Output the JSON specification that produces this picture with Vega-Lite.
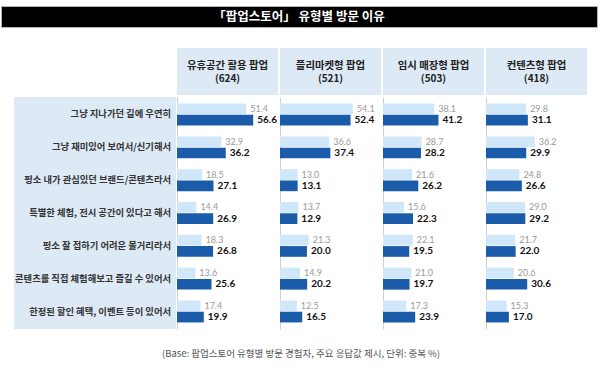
{
  "$schema": "https://vega.github.io/schema/vega-lite/v6.json",
  "padding": {"left": 0, "top": 5, "right": 0, "bottom": 0},
  "background": "white",
  "config": {"view": {"stroke": null}, "font": "Noto Sans CJK KR"},
  "datasets": {
    "headers": [
      {"type": "유휴공간 활용 팝업", "n": "(624)"},
      {"type": "플리마켓형 팝업", "n": "(521)"},
      {"type": "임시 매장형 팝업", "n": "(503)"},
      {"type": "컨텐츠형 팝업", "n": "(418)"}
    ],
    "reasons": [
      {"reason": "그냥 지나가던 길에 우연히"},
      {"reason": "그냥 재미있어 보여서/신기해서"},
      {"reason": "평소 내가 관심있던 브랜드/콘텐츠라서"},
      {"reason": "특별한 체험, 전시 공간이 있다고 해서"},
      {"reason": "평소 잘 접하기 어려운 볼거리라서"},
      {"reason": "콘텐츠를 직접 체험해보고 즐길 수 있어서"},
      {"reason": "한정된 할인 혜택, 이벤트 등이 있어서"}
    ],
    "bars": [
      {"type": "유휴공간 활용 팝업", "reason": "그냥 지나가던 길에 우연히", "series": "prev", "value": 51.4},
      {"type": "유휴공간 활용 팝업", "reason": "그냥 지나가던 길에 우연히", "series": "curr", "value": 56.6},
      {"type": "플리마켓형 팝업", "reason": "그냥 지나가던 길에 우연히", "series": "prev", "value": 54.1},
      {"type": "플리마켓형 팝업", "reason": "그냥 지나가던 길에 우연히", "series": "curr", "value": 52.4},
      {"type": "임시 매장형 팝업", "reason": "그냥 지나가던 길에 우연히", "series": "prev", "value": 38.1},
      {"type": "임시 매장형 팝업", "reason": "그냥 지나가던 길에 우연히", "series": "curr", "value": 41.2},
      {"type": "컨텐츠형 팝업", "reason": "그냥 지나가던 길에 우연히", "series": "prev", "value": 29.8},
      {"type": "컨텐츠형 팝업", "reason": "그냥 지나가던 길에 우연히", "series": "curr", "value": 31.1},

      {"type": "유휴공간 활용 팝업", "reason": "그냥 재미있어 보여서/신기해서", "series": "prev", "value": 32.9},
      {"type": "유휴공간 활용 팝업", "reason": "그냥 재미있어 보여서/신기해서", "series": "curr", "value": 36.2},
      {"type": "플리마켓형 팝업", "reason": "그냥 재미있어 보여서/신기해서", "series": "prev", "value": 36.6},
      {"type": "플리마켓형 팝업", "reason": "그냥 재미있어 보여서/신기해서", "series": "curr", "value": 37.4},
      {"type": "임시 매장형 팝업", "reason": "그냥 재미있어 보여서/신기해서", "series": "prev", "value": 28.7},
      {"type": "임시 매장형 팝업", "reason": "그냥 재미있어 보여서/신기해서", "series": "curr", "value": 28.2},
      {"type": "컨텐츠형 팝업", "reason": "그냥 재미있어 보여서/신기해서", "series": "prev", "value": 36.2},
      {"type": "컨텐츠형 팝업", "reason": "그냥 재미있어 보여서/신기해서", "series": "curr", "value": 29.9},

      {"type": "유휴공간 활용 팝업", "reason": "평소 내가 관심있던 브랜드/콘텐츠라서", "series": "prev", "value": 18.5},
      {"type": "유휴공간 활용 팝업", "reason": "평소 내가 관심있던 브랜드/콘텐츠라서", "series": "curr", "value": 27.1},
      {"type": "플리마켓형 팝업", "reason": "평소 내가 관심있던 브랜드/콘텐츠라서", "series": "prev", "value": 13.0},
      {"type": "플리마켓형 팝업", "reason": "평소 내가 관심있던 브랜드/콘텐츠라서", "series": "curr", "value": 13.1},
      {"type": "임시 매장형 팝업", "reason": "평소 내가 관심있던 브랜드/콘텐츠라서", "series": "prev", "value": 21.6},
      {"type": "임시 매장형 팝업", "reason": "평소 내가 관심있던 브랜드/콘텐츠라서", "series": "curr", "value": 26.2},
      {"type": "컨텐츠형 팝업", "reason": "평소 내가 관심있던 브랜드/콘텐츠라서", "series": "prev", "value": 24.8},
      {"type": "컨텐츠형 팝업", "reason": "평소 내가 관심있던 브랜드/콘텐츠라서", "series": "curr", "value": 26.6},

      {"type": "유휴공간 활용 팝업", "reason": "특별한 체험, 전시 공간이 있다고 해서", "series": "prev", "value": 14.4},
      {"type": "유휴공간 활용 팝업", "reason": "특별한 체험, 전시 공간이 있다고 해서", "series": "curr", "value": 26.9},
      {"type": "플리마켓형 팝업", "reason": "특별한 체험, 전시 공간이 있다고 해서", "series": "prev", "value": 13.7},
      {"type": "플리마켓형 팝업", "reason": "특별한 체험, 전시 공간이 있다고 해서", "series": "curr", "value": 12.9},
      {"type": "임시 매장형 팝업", "reason": "특별한 체험, 전시 공간이 있다고 해서", "series": "prev", "value": 15.6},
      {"type": "임시 매장형 팝업", "reason": "특별한 체험, 전시 공간이 있다고 해서", "series": "curr", "value": 22.3},
      {"type": "컨텐츠형 팝업", "reason": "특별한 체험, 전시 공간이 있다고 해서", "series": "prev", "value": 29.0},
      {"type": "컨텐츠형 팝업", "reason": "특별한 체험, 전시 공간이 있다고 해서", "series": "curr", "value": 29.2},

      {"type": "유휴공간 활용 팝업", "reason": "평소 잘 접하기 어려운 볼거리라서", "series": "prev", "value": 18.3},
      {"type": "유휴공간 활용 팝업", "reason": "평소 잘 접하기 어려운 볼거리라서", "series": "curr", "value": 26.8},
      {"type": "플리마켓형 팝업", "reason": "평소 잘 접하기 어려운 볼거리라서", "series": "prev", "value": 21.3},
      {"type": "플리마켓형 팝업", "reason": "평소 잘 접하기 어려운 볼거리라서", "series": "curr", "value": 20.0},
      {"type": "임시 매장형 팝업", "reason": "평소 잘 접하기 어려운 볼거리라서", "series": "prev", "value": 22.1},
      {"type": "임시 매장형 팝업", "reason": "평소 잘 접하기 어려운 볼거리라서", "series": "curr", "value": 19.5},
      {"type": "컨텐츠형 팝업", "reason": "평소 잘 접하기 어려운 볼거리라서", "series": "prev", "value": 21.7},
      {"type": "컨텐츠형 팝업", "reason": "평소 잘 접하기 어려운 볼거리라서", "series": "curr", "value": 22.0},

      {"type": "유휴공간 활용 팝업", "reason": "콘텐츠를 직접 체험해보고 즐길 수 있어서", "series": "prev", "value": 13.6},
      {"type": "유휴공간 활용 팝업", "reason": "콘텐츠를 직접 체험해보고 즐길 수 있어서", "series": "curr", "value": 25.6},
      {"type": "플리마켓형 팝업", "reason": "콘텐츠를 직접 체험해보고 즐길 수 있어서", "series": "prev", "value": 14.9},
      {"type": "플리마켓형 팝업", "reason": "콘텐츠를 직접 체험해보고 즐길 수 있어서", "series": "curr", "value": 20.2},
      {"type": "임시 매장형 팝업", "reason": "콘텐츠를 직접 체험해보고 즐길 수 있어서", "series": "prev", "value": 21.0},
      {"type": "임시 매장형 팝업", "reason": "콘텐츠를 직접 체험해보고 즐길 수 있어서", "series": "curr", "value": 19.7},
      {"type": "컨텐츠형 팝업", "reason": "콘텐츠를 직접 체험해보고 즐길 수 있어서", "series": "prev", "value": 20.6},
      {"type": "컨텐츠형 팝업", "reason": "콘텐츠를 직접 체험해보고 즐길 수 있어서", "series": "curr", "value": 30.6},

      {"type": "유휴공간 활용 팝업", "reason": "한정된 할인 혜택, 이벤트 등이 있어서", "series": "prev", "value": 17.4},
      {"type": "유휴공간 활용 팝업", "reason": "한정된 할인 혜택, 이벤트 등이 있어서", "series": "curr", "value": 19.9},
      {"type": "플리마켓형 팝업", "reason": "한정된 할인 혜택, 이벤트 등이 있어서", "series": "prev", "value": 12.5},
      {"type": "플리마켓형 팝업", "reason": "한정된 할인 혜택, 이벤트 등이 있어서", "series": "curr", "value": 16.5},
      {"type": "임시 매장형 팝업", "reason": "한정된 할인 혜택, 이벤트 등이 있어서", "series": "prev", "value": 17.3},
      {"type": "임시 매장형 팝업", "reason": "한정된 할인 혜택, 이벤트 등이 있어서", "series": "curr", "value": 23.9},
      {"type": "컨텐츠형 팝업", "reason": "한정된 할인 혜택, 이벤트 등이 있어서", "series": "prev", "value": 15.3},
      {"type": "컨텐츠형 팝업", "reason": "한정된 할인 혜택, 이벤트 등이 있어서", "series": "curr", "value": 17.0}
    ]
  },
  "vconcat": [
    {
      "width": 596,
      "height": 21,
      "data": {"values": [{"t": "「팝업스토어」 유형별 방문 이유"}]},
      "view": {"fill": "black", "stroke": "#b5b5b5"},
      "mark": {"type": "text", "color": "white", "fontSize": 12.5, "fontWeight": "bold", "font": "Noto Sans CJK KR", "baseline": "middle"},
      "encoding": {"text": {"field": "t"}}
    },
    {
      "vconcat": [
        {
          "hconcat": [
            {
              "width": 175,
              "height": 47,
              "data": {"values": [{}]},
              "mark": {"type": "text"},
              "encoding": {}
            },
            {
              "width": 410,
              "height": 47,
              "data": {"name": "headers"},
              "encoding": {
                "x": {
                  "field": "type",
                  "type": "nominal",
                  "sort": ["유휴공간 활용 팝업", "플리마켓형 팝업", "임시 매장형 팝업", "컨텐츠형 팝업"],
                  "scale": {"paddingInner": 0.0194, "paddingOuter": 0},
                  "axis": null
                }
              },
              "layer": [
                {"mark": {"type": "bar", "color": "#dde9f5"}},
                {
                  "mark": {"type": "text", "fontSize": 10.4, "fontWeight": "bold", "color": "#222222", "dy": -6, "baseline": "middle"},
                  "encoding": {"text": {"field": "type"}}
                },
                {
                  "mark": {"type": "text", "fontSize": 10, "fontWeight": "bold", "color": "#222222", "dy": 7.5, "baseline": "middle"},
                  "encoding": {"text": {"field": "n"}}
                }
              ]
            }
          ],
          "spacing": 1,
          "bounds": "flush"
        },
        {
          "hconcat": [
            {
              "width": 12,
              "height": 232,
              "data": {"values": [{}]},
              "mark": {"type": "text"},
              "encoding": {}
            },
            {
              "width": 162,
              "height": 232,
              "data": {"name": "reasons"},
              "view": {"fill": "#dde9f5"},
              "mark": {"type": "text", "align": "right", "baseline": "middle", "dx": -5, "fontSize": 9.3, "fontWeight": "bold", "color": "#333333"},
              "encoding": {
                "x": {"value": "width"},
                "y": {
                  "field": "reason",
                  "type": "nominal",
                  "sort": null,
                  "scale": {"paddingInner": 0.33, "paddingOuter": 0.2},
                  "axis": null
                },
                "text": {"field": "reason"}
              }
            },
            {
              "data": {"name": "bars"},
              "facet": {
                "column": {
                  "field": "type",
                  "type": "nominal",
                  "sort": ["유휴공간 활용 팝업", "플리마켓형 팝업", "임시 매장형 팝업", "컨텐츠형 팝업"],
                  "header": null
                }
              },
              "spacing": 2,
              "bounds": "flush",
              "resolve": {"axis": {"y": "independent"}},
              "spec": {
                "width": 101,
                "height": 232,
                "encoding": {
                  "y": {
                    "field": "reason",
                    "type": "nominal",
                    "sort": ["그냥 지나가던 길에 우연히", "그냥 재미있어 보여서/신기해서", "평소 내가 관심있던 브랜드/콘텐츠라서", "특별한 체험, 전시 공간이 있다고 해서", "평소 잘 접하기 어려운 볼거리라서", "콘텐츠를 직접 체험해보고 즐길 수 있어서", "한정된 할인 혜택, 이벤트 등이 있어서"],
                    "scale": {"paddingInner": 0.33, "paddingOuter": 0.2},
                    "axis": {"labels": false, "ticks": false, "title": null, "grid": false, "domainColor": "#cfcfcf", "domainWidth": 1}
                  },
                  "yOffset": {
                    "field": "series",
                    "type": "nominal",
                    "scale": {"domain": ["prev", "curr"], "paddingInner": 0.05}
                  },
                  "x": {
                    "field": "value",
                    "type": "quantitative",
                    "scale": {"domain": [0, 75]},
                    "axis": null
                  }
                },
                "layer": [
                  {
                    "mark": {"type": "bar"},
                    "encoding": {
                      "color": {
                        "field": "series",
                        "type": "nominal",
                        "scale": {"domain": ["prev", "curr"], "range": ["#cfe7f9", "#1b5caa"]},
                        "legend": null
                      }
                    }
                  },
                  {
                    "transform": [{"filter": "datum.series === 'prev'"}],
                    "mark": {"type": "text", "align": "left", "baseline": "middle", "dx": 4, "fontSize": 9, "font": "Lato", "color": "#9a9a9a"},
                    "encoding": {"text": {"field": "value", "type": "quantitative", "format": ".1f"}}
                  },
                  {
                    "transform": [{"filter": "datum.series === 'curr'"}],
                    "mark": {"type": "text", "align": "left", "baseline": "middle", "dx": 4, "fontSize": 10, "font": "Lato", "fontWeight": "bold", "color": "#111111"},
                    "encoding": {"text": {"field": "value", "type": "quantitative", "format": ".1f"}}
                  }
                ]
              }
            }
          ],
          "spacing": 1,
          "bounds": "flush"
        }
      ],
      "spacing": 2
    },
    {
      "width": 600,
      "height": 4,
      "data": {"values": [{"t": "(Base: 팝업스토어 유형별 방문 경험자, 주요 응답값 제시, 단위: 중복 %)"}]},
      "mark": {"type": "text", "color": "#555555", "fontSize": 9.5, "baseline": "middle", "font": "Noto Sans CJK KR"},
      "encoding": {"text": {"field": "t"}}
    }
  ],
  "spacing": 20
}
